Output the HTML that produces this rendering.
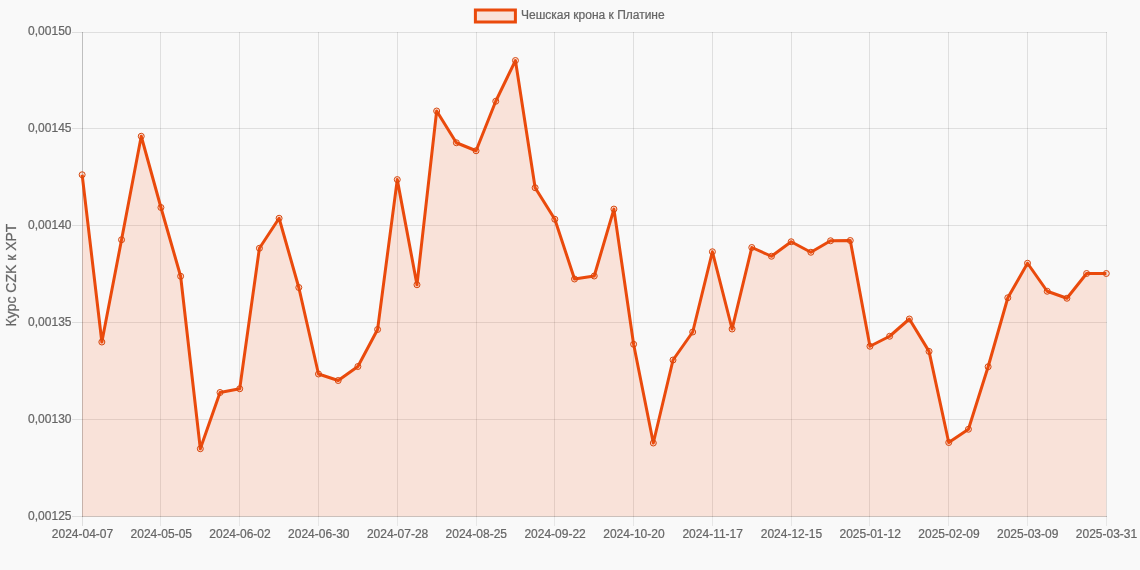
<!DOCTYPE html>
<html lang="ru"><head><meta charset="utf-8"><title>Чешская крона к Платине</title>
<style>
html,body{margin:0;padding:0;background:#f9f9f9;}
body{width:1140px;height:570px;overflow:hidden;font-family:"Liberation Sans",sans-serif;}
svg{display:block}
svg text{font-family:"Liberation Sans",sans-serif;fill:#666;stroke:#666;stroke-width:0.22px;}
</style></head><body>
<svg width="1140" height="570" viewBox="0 0 1140 570">
<rect width="1140" height="570" fill="#f9f9f9"/>

<g shape-rendering="crispEdges" stroke="#000" stroke-opacity="0.1" stroke-width="1">
<line x1="72" x2="1107" y1="32.5" y2="32.5"/>
<line x1="72" x2="1107" y1="128.5" y2="128.5"/>
<line x1="72" x2="1107" y1="225.5" y2="225.5"/>
<line x1="72" x2="1107" y1="322.5" y2="322.5"/>
<line x1="72" x2="1107" y1="419.5" y2="419.5"/>
<line x1="72" x2="1107" y1="516.5" y2="516.5"/>
<line x1="82.5" x2="82.5" y1="32" y2="517" stroke-opacity="0.23"/>
<line x1="82.5" x2="82.5" y1="517" y2="526" stroke-opacity="0.1"/>
<line x1="160.5" x2="160.5" y1="32" y2="517"/>
<line x1="160.5" x2="160.5" y1="517" y2="526" stroke-opacity="0.07"/>
<line x1="239.5" x2="239.5" y1="32" y2="517"/>
<line x1="239.5" x2="239.5" y1="517" y2="526" stroke-opacity="0.07"/>
<line x1="318.5" x2="318.5" y1="32" y2="517"/>
<line x1="318.5" x2="318.5" y1="517" y2="526" stroke-opacity="0.07"/>
<line x1="397.5" x2="397.5" y1="32" y2="517"/>
<line x1="397.5" x2="397.5" y1="517" y2="526" stroke-opacity="0.07"/>
<line x1="476.5" x2="476.5" y1="32" y2="517"/>
<line x1="476.5" x2="476.5" y1="517" y2="526" stroke-opacity="0.07"/>
<line x1="554.5" x2="554.5" y1="32" y2="517"/>
<line x1="554.5" x2="554.5" y1="517" y2="526" stroke-opacity="0.07"/>
<line x1="633.5" x2="633.5" y1="32" y2="517"/>
<line x1="633.5" x2="633.5" y1="517" y2="526" stroke-opacity="0.07"/>
<line x1="712.5" x2="712.5" y1="32" y2="517"/>
<line x1="712.5" x2="712.5" y1="517" y2="526" stroke-opacity="0.07"/>
<line x1="791.5" x2="791.5" y1="32" y2="517"/>
<line x1="791.5" x2="791.5" y1="517" y2="526" stroke-opacity="0.07"/>
<line x1="869.5" x2="869.5" y1="32" y2="517"/>
<line x1="869.5" x2="869.5" y1="517" y2="526" stroke-opacity="0.07"/>
<line x1="948.5" x2="948.5" y1="32" y2="517"/>
<line x1="948.5" x2="948.5" y1="517" y2="526" stroke-opacity="0.07"/>
<line x1="1027.5" x2="1027.5" y1="32" y2="517"/>
<line x1="1027.5" x2="1027.5" y1="517" y2="526" stroke-opacity="0.07"/>
<line x1="1106.5" x2="1106.5" y1="32" y2="517"/>
<line x1="1106.5" x2="1106.5" y1="517" y2="526" stroke-opacity="0.07"/>
<line x1="82" x2="1107" y1="516.5" y2="516.5"/>
</g>
<path d="M82.15,516.5 L82.15,174.75 L101.85,342.00 L121.54,239.75 L141.24,136.25 L160.93,207.50 L180.63,276.25 L200.32,448.75 L220.02,392.50 L239.71,388.75 L259.41,248.25 L279.10,218.25 L298.80,287.50 L318.49,374.00 L338.19,380.50 L357.88,366.50 L377.58,329.50 L397.27,179.60 L416.97,284.75 L436.66,111.00 L456.36,142.75 L476.05,150.75 L495.75,101.25 L515.44,60.50 L535.14,187.75 L554.83,219.25 L574.53,279.00 L594.22,276.00 L613.92,209.10 L633.62,344.25 L653.31,443.00 L673.01,360.00 L692.70,332.00 L712.40,251.75 L732.09,329.00 L751.79,247.50 L771.48,256.25 L791.18,241.75 L810.87,252.25 L830.57,240.75 L850.26,240.50 L869.96,346.25 L889.65,336.25 L909.35,319.00 L929.04,351.40 L948.74,442.50 L968.43,429.25 L988.13,366.75 L1007.82,297.75 L1027.52,263.25 L1047.21,291.25 L1066.91,298.25 L1086.60,273.50 L1106.30,273.50 L1106.30,516.5 Z" fill="#ff4a08" fill-opacity="0.13"/>
<polyline points="82.15,174.75 101.85,342.00 121.54,239.75 141.24,136.25 160.93,207.50 180.63,276.25 200.32,448.75 220.02,392.50 239.71,388.75 259.41,248.25 279.10,218.25 298.80,287.50 318.49,374.00 338.19,380.50 357.88,366.50 377.58,329.50 397.27,179.60 416.97,284.75 436.66,111.00 456.36,142.75 476.05,150.75 495.75,101.25 515.44,60.50 535.14,187.75 554.83,219.25 574.53,279.00 594.22,276.00 613.92,209.10 633.62,344.25 653.31,443.00 673.01,360.00 692.70,332.00 712.40,251.75 732.09,329.00 751.79,247.50 771.48,256.25 791.18,241.75 810.87,252.25 830.57,240.75 850.26,240.50 869.96,346.25 889.65,336.25 909.35,319.00 929.04,351.40 948.74,442.50 968.43,429.25 988.13,366.75 1007.82,297.75 1027.52,263.25 1047.21,291.25 1066.91,298.25 1086.60,273.50 1106.30,273.50" fill="none" stroke="#ea4a0c" stroke-width="3" stroke-linejoin="round" stroke-linecap="butt"/>
<g fill="#ff4a08" fill-opacity="0.13" stroke="#d6480f" stroke-width="1">
<circle cx="82.15" cy="174.75" r="3"/>
<circle cx="101.85" cy="342.00" r="3"/>
<circle cx="121.54" cy="239.75" r="3"/>
<circle cx="141.24" cy="136.25" r="3"/>
<circle cx="160.93" cy="207.50" r="3"/>
<circle cx="180.63" cy="276.25" r="3"/>
<circle cx="200.32" cy="448.75" r="3"/>
<circle cx="220.02" cy="392.50" r="3"/>
<circle cx="239.71" cy="388.75" r="3"/>
<circle cx="259.41" cy="248.25" r="3"/>
<circle cx="279.10" cy="218.25" r="3"/>
<circle cx="298.80" cy="287.50" r="3"/>
<circle cx="318.49" cy="374.00" r="3"/>
<circle cx="338.19" cy="380.50" r="3"/>
<circle cx="357.88" cy="366.50" r="3"/>
<circle cx="377.58" cy="329.50" r="3"/>
<circle cx="397.27" cy="179.60" r="3"/>
<circle cx="416.97" cy="284.75" r="3"/>
<circle cx="436.66" cy="111.00" r="3"/>
<circle cx="456.36" cy="142.75" r="3"/>
<circle cx="476.05" cy="150.75" r="3"/>
<circle cx="495.75" cy="101.25" r="3"/>
<circle cx="515.44" cy="60.50" r="3"/>
<circle cx="535.14" cy="187.75" r="3"/>
<circle cx="554.83" cy="219.25" r="3"/>
<circle cx="574.53" cy="279.00" r="3"/>
<circle cx="594.22" cy="276.00" r="3"/>
<circle cx="613.92" cy="209.10" r="3"/>
<circle cx="633.62" cy="344.25" r="3"/>
<circle cx="653.31" cy="443.00" r="3"/>
<circle cx="673.01" cy="360.00" r="3"/>
<circle cx="692.70" cy="332.00" r="3"/>
<circle cx="712.40" cy="251.75" r="3"/>
<circle cx="732.09" cy="329.00" r="3"/>
<circle cx="751.79" cy="247.50" r="3"/>
<circle cx="771.48" cy="256.25" r="3"/>
<circle cx="791.18" cy="241.75" r="3"/>
<circle cx="810.87" cy="252.25" r="3"/>
<circle cx="830.57" cy="240.75" r="3"/>
<circle cx="850.26" cy="240.50" r="3"/>
<circle cx="869.96" cy="346.25" r="3"/>
<circle cx="889.65" cy="336.25" r="3"/>
<circle cx="909.35" cy="319.00" r="3"/>
<circle cx="929.04" cy="351.40" r="3"/>
<circle cx="948.74" cy="442.50" r="3"/>
<circle cx="968.43" cy="429.25" r="3"/>
<circle cx="988.13" cy="366.75" r="3"/>
<circle cx="1007.82" cy="297.75" r="3"/>
<circle cx="1027.52" cy="263.25" r="3"/>
<circle cx="1047.21" cy="291.25" r="3"/>
<circle cx="1066.91" cy="298.25" r="3"/>
<circle cx="1086.60" cy="273.50" r="3"/>
<circle cx="1106.30" cy="273.50" r="3"/>
</g>
<rect x="475.4" y="10" width="40" height="12" fill="#ff4a08" fill-opacity="0.13"/><rect x="475.4" y="10" width="40" height="12" fill="none" stroke="#ea4a0c" stroke-width="3"/>
<text x="521" y="19" font-size="12">Чешская крона к Платине</text>
<text x="71.5" y="35" font-size="12" text-anchor="end">0,00150</text>
<text x="71.5" y="132" font-size="12" text-anchor="end">0,00145</text>
<text x="71.5" y="229" font-size="12" text-anchor="end">0,00140</text>
<text x="71.5" y="326" font-size="12" text-anchor="end">0,00135</text>
<text x="71.5" y="423" font-size="12" text-anchor="end">0,00130</text>
<text x="71.5" y="520" font-size="12" text-anchor="end">0,00125</text>
<text x="82.5" y="538" font-size="12" text-anchor="middle">2024-04-07</text>
<text x="161.3" y="538" font-size="12" text-anchor="middle">2024-05-05</text>
<text x="240.0" y="538" font-size="12" text-anchor="middle">2024-06-02</text>
<text x="318.8" y="538" font-size="12" text-anchor="middle">2024-06-30</text>
<text x="397.6" y="538" font-size="12" text-anchor="middle">2024-07-28</text>
<text x="476.3" y="538" font-size="12" text-anchor="middle">2024-08-25</text>
<text x="555.1" y="538" font-size="12" text-anchor="middle">2024-09-22</text>
<text x="633.9" y="538" font-size="12" text-anchor="middle">2024-10-20</text>
<text x="712.7" y="538" font-size="12" text-anchor="middle">2024-11-17</text>
<text x="791.4" y="538" font-size="12" text-anchor="middle">2024-12-15</text>
<text x="870.2" y="538" font-size="12" text-anchor="middle">2025-01-12</text>
<text x="949.0" y="538" font-size="12" text-anchor="middle">2025-02-09</text>
<text x="1027.7" y="538" font-size="12" text-anchor="middle">2025-03-09</text>
<text x="1106.5" y="538" font-size="12" text-anchor="middle">2025-03-31</text>
<text transform="translate(15.5,275) rotate(-90)" font-size="14" text-anchor="middle">Курс CZK к XPT</text>
</svg></body></html>
